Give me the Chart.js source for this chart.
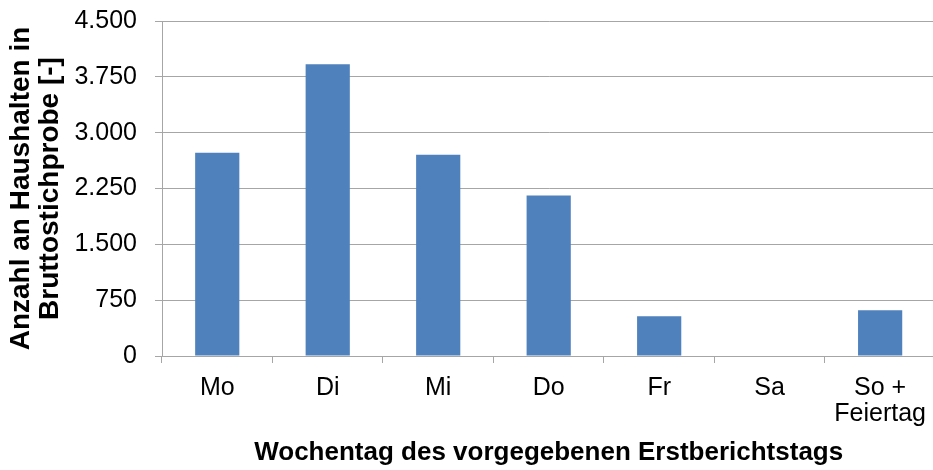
<!DOCTYPE html>
<html lang="de">
<head>
<meta charset="utf-8">
<script src="https://cdn.jsdelivr.net/npm/chart.js@4/dist/chart.umd.min.js"></script>
<style>
  html, body { margin: 0; padding: 0; background: #fff; overflow: hidden; }
  /* Zeichenfläche läuft im Original rechts leicht über den Rand hinaus */
  #wrap { width: 938px; height: 470px; }
</style>
</head>
<body>
<div id="wrap"><canvas id="graphe"></canvas></div>
<script>
// Daten
const tage = ['Mo', 'Di', 'Mi', 'Do', 'Fr', 'Sa', ['So +', 'Feiertag']];
const haushalte = [2730, 3920, 2705, 2155, 535, 0, 615];
const yTicks = [0, 750, 1500, 2250, 3000, 3750, 4500];

const gitter = '#a6a6a6';
const famille = 'Liberation Sans, Arial, sans-serif';
const schrift = { family: famille, size: 25, lineHeight: 1.05 };

// 4500 -> "4.500"
const tausender = (v) => String(v).replace(/\B(?=(\d{3})+(?!\d))/g, '.');

new Chart(document.getElementById('graphe'), {
    type: 'bar',
    data: {
        labels: tage,
        datasets: [{
            data: haushalte,
            backgroundColor: '#4f81bd',
            categoryPercentage: 1,
            barPercentage: 0.4,
        }],
    },
    options: {
        responsive: true,
        maintainAspectRatio: false,
        animation: false,
        layout: { padding: { top: 21, right: 0, bottom: 0, left: 0 } },
        plugins: { legend: { display: false }, tooltip: { enabled: false } },
        scales: {
            y: {
                min: 0, max: 4500,
                afterBuildTicks: (s) => { s.ticks = yTicks.map(v => ({ value: v })); },
                afterFit: (s) => { s.width = 162; s.paddingTop = 0; s.paddingBottom = 0; },
                border: { color: gitter, width: 1 },
                grid: { color: gitter, lineWidth: 1, tickLength: 7 },
                ticks: { color: '#000', font: schrift, padding: 18, callback: (v) => tausender(v) },
                title: {
                    display: true,
                    text: ['Anzahl an Haushalten in', 'Bruttostichprobe [-]'],
                    color: '#000',
                    font: { family: famille, size: 28, weight: 'bold', lineHeight: 1.04 },
                    padding: { top: 7, bottom: 2 },
                },
            },
            x: {
                afterFit: (s) => { s.height = 114; },
                border: { color: gitter, width: 1 },
                grid: { drawOnChartArea: false, color: gitter, tickLength: 7 },
                ticks: { color: '#000', font: schrift, padding: 12, maxRotation: 0 },
                title: {
                    display: true,
                    text: 'Wochentag des vorgegebenen Erstberichtstags',
                    color: '#000',
                    font: { family: famille, size: 26, weight: 'bold', lineHeight: 1.08 },
                    padding: { top: 10, bottom: 3 },
                },
            },
        },
    },
});
</script>
</body>
</html>
